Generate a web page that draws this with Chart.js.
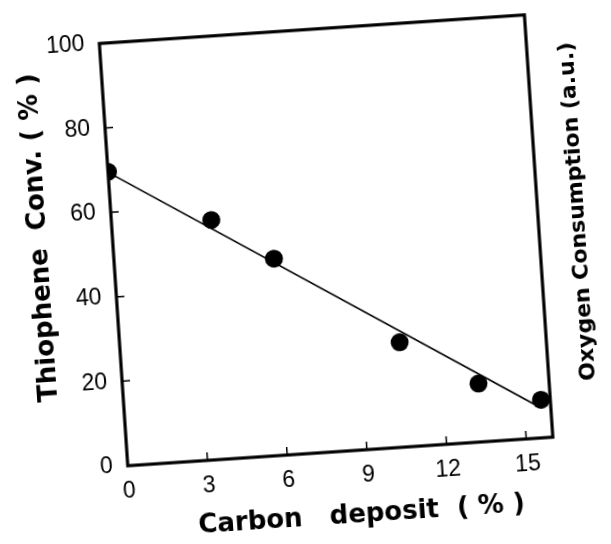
<!DOCTYPE html>
<html><head><meta charset="utf-8">
<script src="https://cdn.jsdelivr.net/npm/chart.js@4"></script>
<style>
html,body{margin:0;padding:0;background:#fff;overflow:hidden;width:611px;height:544px;}
#wrap{position:absolute;left:0;top:0;width:611px;height:544px;transform:rotate(-3.85deg);transform-origin:325px 239px;}
canvas{display:block;}
</style></head><body>
<div id="wrap"><canvas id="c" width="611" height="544"></canvas></div>
<script>
// Data
const carbonDeposit = [0, 3.75, 6.0, 10.5, 13.35, 15.65];
const thiopheneConv = [69.6, 56.6, 46.5, 24.8, 13.8, 9.0];
// Fitted straight line (end points)
const fitX = [0, 15.6];
const fitY = [69.5, 7.2];
// Tick labels
const xTickValues = [0, 3, 6, 9, 12, 15];
const yTickValues = [0, 20, 40, 60, 80, 100];
// Titles
const xTitle = 'Carbon   deposit  ( % )';
const yTitle = 'Thiophene  Conv. ( % )';
const y2Title = 'Oxygen Consumption (a.u.)';

const tickFont = {family: '"Liberation Sans", Arial, sans-serif', size: 23};
const titleFont = 'bold 26px "DejaVu Sans", sans-serif';
const title2Font = 'bold 22px "DejaVu Sans", sans-serif';

const framePlugin = {
  id: 'frame',
  beforeDatasetsDraw(chart) {
    const {ctx, chartArea: a, scales} = chart;
    ctx.save();
    ctx.strokeStyle = '#000';
    ctx.lineWidth = 3.2;
    ctx.strokeRect(a.left, a.top, a.right - a.left, a.bottom - a.top);
    ctx.lineWidth = 1.5;
    ctx.beginPath();
    xTickValues.forEach(v => {
      if (v <= 0) return;
      const px = scales.x.getPixelForValue(v);
      ctx.moveTo(px, a.bottom); ctx.lineTo(px, a.bottom - 8);
    });
    yTickValues.forEach(v => {
      if (v <= 0 || v >= 100) return;
      const py = scales.y.getPixelForValue(v);
      ctx.moveTo(a.left, py); ctx.lineTo(a.left + 8, py);
    });
    ctx.stroke();
    ctx.restore();
  },
  afterDraw(chart) {
    const {ctx, chartArea: a} = chart;
    const cx = (a.left + a.right) / 2, cy = (a.top + a.bottom) / 2;
    ctx.save();
    ctx.fillStyle = '#000';
    ctx.textAlign = 'center';
    ctx.textBaseline = 'middle';
    ctx.font = titleFont;
    ctx.fillText(xTitle, cx + 17, a.bottom + 65);
    ctx.save();
    ctx.translate(a.left - 73, cy - 22);
    ctx.rotate(-Math.PI / 2);
    ctx.fillText(yTitle, 0, 0);
    ctx.restore();
    ctx.save();
    ctx.font = title2Font;
    ctx.translate(a.right + 40, cy - 12);
    ctx.rotate(-Math.PI / 2);
    ctx.fillText(y2Title, 0, 0);
    ctx.restore();
    ctx.restore();
  }
};

new Chart(document.getElementById('c'), {
  type: 'scatter',
  data: {
    datasets: [
      {
        label: 'Thiophene conversion',
        data: carbonDeposit.map((x, i) => ({x, y: thiopheneConv[i]})),
        pointRadius: 9,
        pointBackgroundColor: '#000',
        pointBorderColor: '#000',
        pointBorderWidth: 0,
        showLine: false
      },
      {
        label: 'Fit',
        data: fitX.map((x, i) => ({x, y: fitY[i]})),
        showLine: true,
        pointRadius: 0,
        borderColor: '#000',
        borderWidth: 1.6,
        fill: false
      }
    ]
  },
  options: {
    responsive: false,
    animation: false,
    events: [],
    layout: {padding: {top: 26, left: 0, right: 0, bottom: 0}},
    plugins: {legend: {display: false}, tooltip: {enabled: false}},
    scales: {
      x: {
        type: 'linear', position: 'bottom', min: 0, max: 16,
        afterBuildTicks: s => { s.ticks = xTickValues.map(v => ({value: v})); },
        afterFit: s => { s.height = 92; },
        grid: {display: false, drawTicks: false},
        border: {display: false},
        ticks: {font: tickFont, color: '#000', padding: 12, maxRotation: 0, autoSkip: false}
      },
      y: {
        type: 'linear', position: 'left', min: 0, max: 100,
        afterBuildTicks: s => { s.ticks = yTickValues.map(v => ({value: v})); },
        afterFit: s => { s.width = 113; },
        grid: {display: false, drawTicks: false},
        border: {display: false},
        ticks: {font: tickFont, color: '#000', padding: 15, autoSkip: false}
      },
      y2: {
        type: 'linear', position: 'right', min: 0, max: 1, display: true,
        afterFit: s => { s.width = 72; },
        grid: {display: false, drawTicks: false},
        border: {display: false},
        ticks: {display: false}
      }
    }
  },
  plugins: [framePlugin]
});
</script>
</body></html>
